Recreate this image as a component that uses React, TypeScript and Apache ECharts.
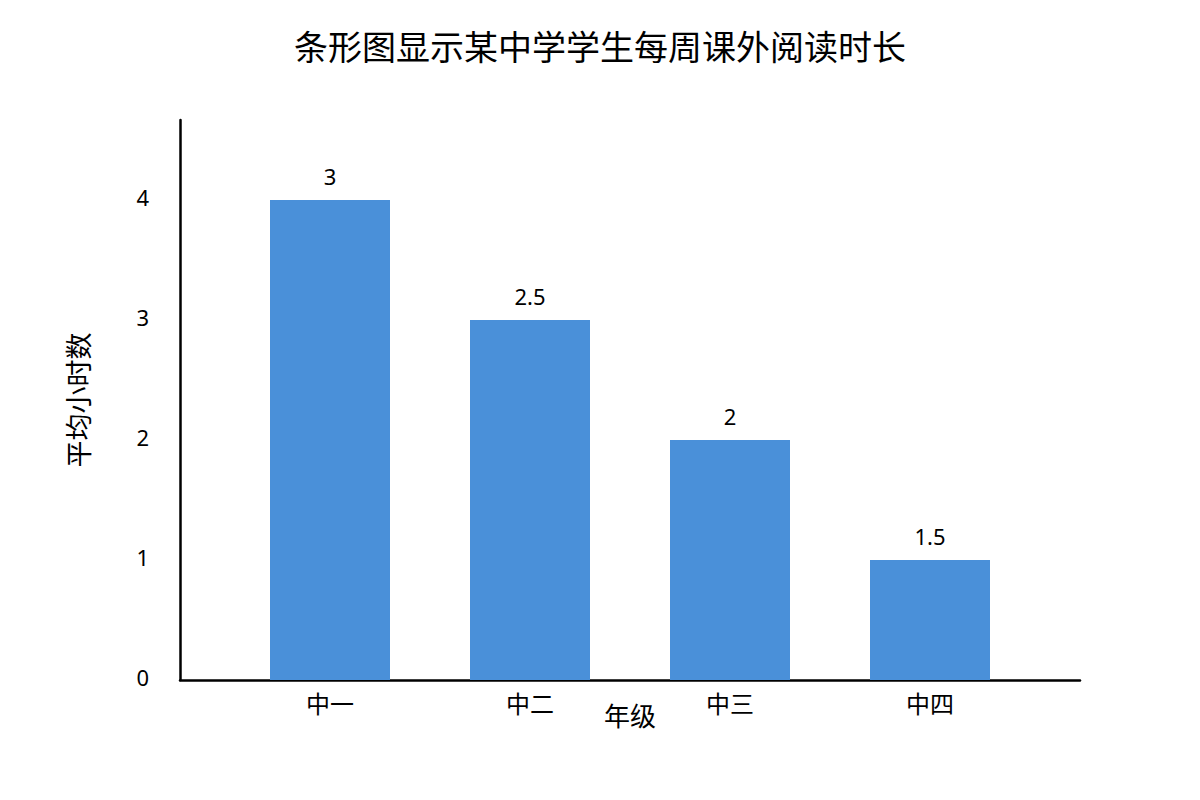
import React, { useEffect, useRef } from "react";
import * as echarts from "echarts";

const categories = ["中一", "中二", "中三", "中四"];
const barHeights = [4, 3, 2, 1];
const barLabels = ["3", "2.5", "2", "1.5"];
const yTicks = [0, 1, 2, 3, 4];

const FONT = "'Noto Sans', 'Noto Sans CJK SC', sans-serif";
const Y_MAX = 4.6667;

export default function App() {
  const ref = useRef<HTMLDivElement>(null);
  useEffect(() => {
    if (!ref.current) return;
    const chart = echarts.init(ref.current, undefined, { renderer: "svg" });
    chart.setOption({
      animation: false,
      backgroundColor: "#ffffff",
      title: {
        text: "条形图显示某中学学生每周课外阅读时长",
        left: "center",
        top: 25,
        textStyle: { fontFamily: FONT, fontSize: 34, fontWeight: "normal", color: "#000" },
      },
      grid: [
        { left: 230, right: 170, top: 120, bottom: 120 },
        { left: 180, right: 120, top: 120, bottom: 120 },
      ],
      xAxis: [
        {
          type: "category",
          gridIndex: 0,
          data: categories,
          axisLine: { show: false },
          axisTick: { show: false },
          axisLabel: { fontFamily: FONT, fontSize: 24, color: "#000", margin: 11 },
        },
        {
          type: "value",
          gridIndex: 1,
          min: 0,
          max: 1,
          axisLine: { show: true, lineStyle: { color: "#000", width: 2.5 } },
          axisTick: { show: false },
          axisLabel: { show: false },
          splitLine: { show: false },
          name: "年级",
          nameLocation: "middle",
          nameGap: 23,
          nameTextStyle: { fontFamily: FONT, fontSize: 26, color: "#000", verticalAlign: "top" },
        },
      ],
      yAxis: [
        {
          type: "value",
          gridIndex: 0,
          min: 0,
          max: Y_MAX,
          show: false,
        },
        {
          type: "value",
          gridIndex: 1,
          min: 0,
          max: Y_MAX,
          interval: 1,
          axisLine: { show: true, lineStyle: { color: "#000", width: 2.5 } },
          axisTick: { show: false },
          splitLine: { show: false },
          axisLabel: {
            fontFamily: FONT,
            fontSize: 22,
            color: "#000",
            margin: 31,
            verticalAlign: "bottom",
            lineHeight: 6,
            showMaxLabel: false,
            formatter: (v: number) => (yTicks.includes(v) ? String(v) : ""),
          },
          name: "平均小时数",
          nameLocation: "middle",
          nameGap: 88,
          nameRotate: 90,
          nameTextStyle: { fontFamily: FONT, fontSize: 27, color: "#000" },
        },
      ],
      series: [
        {
          type: "bar",
          xAxisIndex: 0,
          yAxisIndex: 0,
          data: barHeights,
          barWidth: 120,
          itemStyle: { color: "#4a90d9" },
          label: {
            show: true,
            position: "top",
            distance: 13,
            fontFamily: FONT,
            fontSize: 22,
            color: "#000",
            formatter: (p: any) => barLabels[p.dataIndex],
          },
        },
      ],
    });
    return () => chart.dispose();
  }, []);
  return <div ref={ref} style={{ width: 1200, height: 800, margin: -8 }} />;
}
